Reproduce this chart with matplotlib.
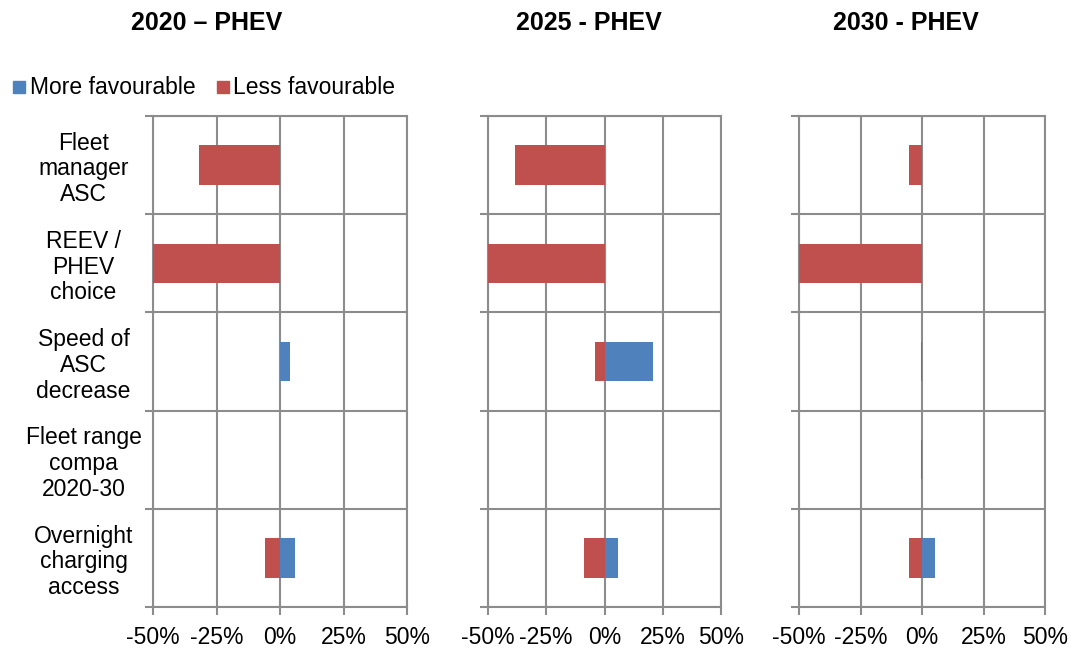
import numpy as np
import matplotlib.pyplot as plt

plt.rcParams['font.family'] = ['Liberation Sans', 'DejaVu Sans']

categories = ['Fleet\nmanager\nASC', 'REEV /\nPHEV\nchoice', 'Speed of\nASC\ndecrease',
              'Fleet range\ncompa\n2020-30', 'Overnight\ncharging\naccess']
titles = ['2020 \u2013 PHEV', '2025 - PHEV', '2030 - PHEV']

# percent change per scenario year
more_fav = [
    [0, 0, 4.0, 0, 5.8],
    [0, 0, 20.9, 0.3, 5.7],
    [0, 0, 0, 0, 5.4],
]
less_fav = [
    [-32.0, -50.0, 0, 0, -6.0],
    [-38.6, -50.0, -3.9, 0, -8.9],
    [-5.3, -50.0, -0.3, -0.3, -5.3],
]

xticks = [-50, -25, 0, 25, 50]
xticklabels = ['-50%', '-25%', '0%', '25%', '50%']

blue = '#4F81BD'
red = '#C0504D'
grid_col = '#8C8C8C'
fs = 16.5

W, H = 1073, 650
fig = plt.figure(figsize=(W / 100, H / 100), dpi=100)

# axes extents in pixels: (left, right)
panels = [(153, 407), (488, 721), (799, 1045)]
title_x = [207, 589, 906]
top_px, bot_px = 116, 607

y = np.arange(len(categories))
for i, (l, r) in enumerate(panels):
    ax = fig.add_axes([l / W, 1 - bot_px / H, (r - l) / W, (bot_px - top_px) / H])
    ax.barh(y, more_fav[i], height=0.4, color=blue, zorder=3)
    ax.barh(y, less_fav[i], height=0.4, color=red, zorder=3)
    ax.set_xlim(-50, 50)
    ax.set_ylim(len(categories) - 0.5, -0.5)
    ax.set_xticks(xticks)
    ax.set_xticklabels(xticklabels, fontsize=fs)
    ax.set_yticks(y)
    if i == 0:
        ax.set_yticklabels(categories, fontsize=fs, ha='center', linespacing=1.15)
        ax.tick_params(axis='y', which='major', pad=50)
    else:
        ax.set_yticklabels([])
    ax.tick_params(axis='y', which='major', length=0)
    ax.set_yticks(np.arange(len(categories) + 1) - 0.5, minor=True)
    ax.tick_params(axis='y', which='minor', length=6, width=1.5, color=grid_col, direction='out')
    ax.tick_params(axis='x', length=6, width=1.5, color=grid_col, direction='out', pad=8)
    ax.grid(True, axis='x', which='major', color=grid_col, linewidth=1.5, zorder=1)
    ax.grid(True, axis='y', which='minor', color=grid_col, linewidth=1.5, zorder=1)
    for s in ax.spines.values():
        s.set_color(grid_col)
        s.set_linewidth(1.5)
    ax.set_axisbelow(True)
    fig.text(title_x[i] / W, 1 - 23 / H, titles[i], fontsize=18, fontweight='bold',
             ha='center', va='center')

# legend row
fig.patches.append(plt.Rectangle((13 / W, 1 - 93 / H), 12 / W, 12 / H, color=blue,
                                 transform=fig.transFigure))
fig.text(30 / W, 1 - 87 / H, 'More favourable', fontsize=fs, va='center')
fig.patches.append(plt.Rectangle((217 / W, 1 - 93 / H), 12 / W, 12 / H, color=red,
                                 transform=fig.transFigure))
fig.text(233 / W, 1 - 87 / H, 'Less favourable', fontsize=fs, va='center')

fig.savefig('out.png', dpi=100)
